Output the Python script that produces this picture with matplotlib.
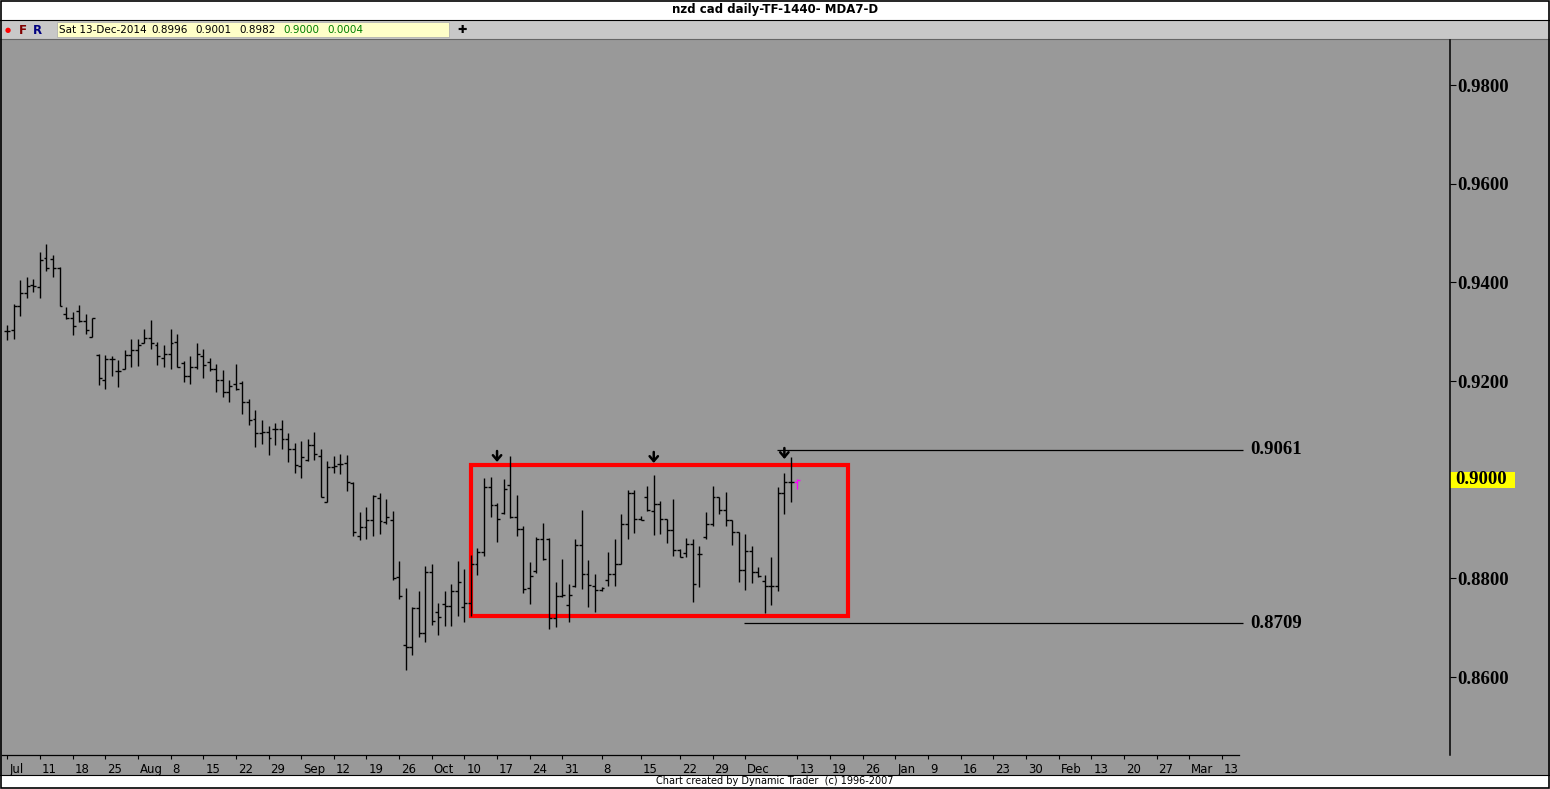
import matplotlib
matplotlib.use("Agg")
import matplotlib.pyplot as plt
from matplotlib.patches import Rectangle
from matplotlib.transforms import blended_transform_factory, ScaledTranslation

# ================= DATA =================
opens = [0.9301, 0.9303, 0.9352, 0.9379, 0.9394, 0.9390, 0.9450, 0.9447, 0.9430, 0.9335,
         0.9328, 0.9342, 0.9321, 0.9289, 0.9253, 0.9203, 0.9244, 0.9221, 0.9225, 0.9252,
         0.9262, 0.9278, 0.9287, 0.9272, 0.9246, 0.9255, 0.9280, 0.9236, 0.9211, 0.9228,
         0.9251, 0.9238, 0.9225, 0.9203, 0.9178, 0.9194, 0.9196, 0.9158, 0.9124, 0.9095,
         0.9097, 0.9102, 0.9103, 0.9083, 0.9063, 0.9027, 0.9040, 0.9070, 0.9049, 0.8954,
         0.9026, 0.9032, 0.9033, 0.8993, 0.8885, 0.8905, 0.8918, 0.8962, 0.8915, 0.8918,
         0.8802, 0.8665, 0.8661, 0.8739, 0.8690, 0.8812, 0.8732, 0.8749, 0.8744, 0.8775,
         0.8742, 0.8751, 0.8830, 0.8854, 0.8986, 0.8949, 0.8932, 0.8989, 0.8925, 0.8901,
         0.8780, 0.8815, 0.8879, 0.8879, 0.8719, 0.8764, 0.8745, 0.8785, 0.8867, 0.8808,
         0.8785, 0.8776, 0.8796, 0.8808, 0.8830, 0.8910, 0.8972, 0.8921, 0.8964, 0.8937,
         0.8950, 0.8921, 0.8897, 0.8857, 0.8852, 0.8869, 0.8850, 0.8884, 0.8911, 0.8964,
         0.8938, 0.8918, 0.8894, 0.8816, 0.8856, 0.8813, 0.8795, 0.8785, 0.8785, 0.8973,
         0.8996, 0.8996]
highs = [0.9313, 0.9357, 0.9404, 0.9411, 0.9406, 0.9462, 0.9477, 0.9455, 0.9432, 0.9351,
         0.9340, 0.9355, 0.9335, 0.9328, 0.9255, 0.9253, 0.9250, 0.9242, 0.9262, 0.9286,
         0.9286, 0.9306, 0.9323, 0.9280, 0.9274, 0.9306, 0.9296, 0.9240, 0.9250, 0.9278,
         0.9265, 0.9246, 0.9234, 0.9223, 0.9203, 0.9234, 0.9201, 0.9164, 0.9142, 0.9120,
         0.9108, 0.9114, 0.9120, 0.9094, 0.9075, 0.9078, 0.9083, 0.9097, 0.9063, 0.9038,
         0.9048, 0.9053, 0.9051, 0.8995, 0.8935, 0.8944, 0.8969, 0.8974, 0.8960, 0.8936,
         0.8836, 0.8780, 0.8742, 0.8775, 0.8825, 0.8829, 0.8751, 0.8775, 0.8788, 0.8836,
         0.8818, 0.8847, 0.8861, 0.9003, 0.9006, 0.8952, 0.9001, 0.9048, 0.8969, 0.8906,
         0.8834, 0.8883, 0.8913, 0.8881, 0.8792, 0.8840, 0.8788, 0.8879, 0.8939, 0.8838,
         0.8808, 0.8783, 0.8854, 0.8879, 0.8930, 0.8979, 0.8979, 0.8926, 0.8987, 0.9009,
         0.8957, 0.8921, 0.8960, 0.8860, 0.8881, 0.8879, 0.8865, 0.8935, 0.8987, 0.8964,
         0.8975, 0.8918, 0.8894, 0.8889, 0.8865, 0.8822, 0.8806, 0.8843, 0.8985, 0.9014,
         0.9046, 0.9001]
lows = [0.9284, 0.9286, 0.9332, 0.9369, 0.9381, 0.9369, 0.9422, 0.9411, 0.9352, 0.9325,
        0.9293, 0.9320, 0.9296, 0.9289, 0.9192, 0.9184, 0.9211, 0.9188, 0.9224, 0.9228,
        0.9230, 0.9278, 0.9264, 0.9233, 0.9228, 0.9225, 0.9228, 0.9198, 0.9194, 0.9225,
        0.9206, 0.9221, 0.9178, 0.9168, 0.9158, 0.9181, 0.9134, 0.9111, 0.9067, 0.9073,
        0.9051, 0.9071, 0.9063, 0.9036, 0.9014, 0.9004, 0.9038, 0.9040, 0.8964, 0.8954,
        0.9014, 0.9011, 0.8977, 0.8885, 0.8878, 0.8880, 0.8885, 0.8890, 0.8911, 0.8797,
        0.8759, 0.8614, 0.8644, 0.8682, 0.8670, 0.8705, 0.8686, 0.8704, 0.8703, 0.8724,
        0.8712, 0.8724, 0.8807, 0.8845, 0.8925, 0.8874, 0.8930, 0.8922, 0.8886, 0.8770,
        0.8749, 0.8811, 0.8838, 0.8697, 0.8701, 0.8762, 0.8712, 0.8783, 0.8779, 0.8742,
        0.8732, 0.8775, 0.8784, 0.8784, 0.8830, 0.8879, 0.8892, 0.8918, 0.8937, 0.8887,
        0.8889, 0.8872, 0.8845, 0.8843, 0.8843, 0.8752, 0.8783, 0.8879, 0.8906, 0.8930,
        0.8906, 0.8867, 0.8793, 0.8777, 0.8791, 0.8803, 0.8729, 0.8745, 0.8774, 0.8931,
        0.8955, 0.8982]
closes = [0.9301, 0.9353, 0.9379, 0.9393, 0.9393, 0.9445, 0.9430, 0.9430, 0.9352, 0.9328,
          0.9311, 0.9321, 0.9303, 0.9328, 0.9206, 0.9244, 0.9245, 0.9221, 0.9253, 0.9262,
          0.9272, 0.9287, 0.9278, 0.9250, 0.9255, 0.9278, 0.9228, 0.9211, 0.9228, 0.9255,
          0.9232, 0.9225, 0.9203, 0.9178, 0.9190, 0.9183, 0.9158, 0.9120, 0.9095, 0.9097,
          0.9085, 0.9103, 0.9083, 0.9063, 0.9029, 0.9046, 0.9070, 0.9052, 0.8965, 0.9026,
          0.9027, 0.9032, 0.8995, 0.8893, 0.8905, 0.8918, 0.8967, 0.8917, 0.8924, 0.8800,
          0.8764, 0.8660, 0.8739, 0.8690, 0.8812, 0.8714, 0.8722, 0.8744, 0.8775, 0.8793,
          0.8751, 0.8830, 0.8854, 0.8986, 0.8949, 0.8920, 0.8982, 0.8925, 0.8901, 0.8778,
          0.8805, 0.8879, 0.8840, 0.8720, 0.8764, 0.8766, 0.8766, 0.8867, 0.8808, 0.8787,
          0.8776, 0.8781, 0.8808, 0.8830, 0.8910, 0.8972, 0.8921, 0.8918, 0.8938, 0.8950,
          0.8921, 0.8897, 0.8857, 0.8843, 0.8869, 0.8789, 0.8850, 0.8911, 0.8964, 0.8938,
          0.8918, 0.8894, 0.8816, 0.8856, 0.8813, 0.8804, 0.8785, 0.8785, 0.8973, 0.8996,
          0.8996, 0.9000]

date_ticks = [0, 5, 10, 15, 20, 25, 30, 35, 40, 45, 50, 55, 60, 65, 70, 75, 80, 85,
              91, 97, 103, 108, 113, 121, 126, 131, 136, 141, 146, 151, 156, 161, 166,
              171, 176, 181, 186]
date_labels = ["Jul", "11", "18", "25", "Aug", "8", "15", "22", "29", "Sep", "12", "19",
               "26", "Oct", "10", "17", "24", "31", "8", "15", "22", "29", "Dec", "13",
               "19", "26", "Jan", "9", "16", "23", "30", "Feb", "13", "20", "27", "Mar", "13"]

price_ticks = [0.86, 0.88, 0.92, 0.94, 0.96, 0.98]
last_price = 0.9000

box_x = (71, 128.7)
box_y = (0.8724, 0.9030)
level_vals = [0.9061, 0.8709]
level_start = [117.8, 112.8]
level_end = 189.3
arrow_idx = [75, 99, 119]
arrow_price = [0.9046, 0.9044, 0.9052]

header_vals = ["Sat 13-Dec-2014", "0.8996", "0.9001", "0.8982", "0.9000", "0.0004"]

# ================= FIGURE =================
W, H = 1550, 789
fig = plt.figure(figsize=(W / 100, H / 100), dpi=100)
fig.patch.set_facecolor("white")


def fx(x):
    return x / W


def fy(y):
    return 1 - y / H


def frect(x0, y0, x1, y1, z=-10, **kw):
    fig.add_artist(Rectangle((fx(x0), fy(y1)), fx(x1) - fx(x0), fy(y0) - fy(y1),
                             transform=fig.transFigure, zorder=z, **kw))


def fline(x0, y0, x1, y1, **kw):
    fig.add_artist(plt.Line2D([fx(x0), fx(x1)], [fy(y0), fy(y1)],
                              transform=fig.transFigure, zorder=-5, **kw))


GRAY = "#999999"
frect(0, 20, W, 39, facecolor="#c8c8c8", edgecolor="none")
frect(0, 39, W, 775, facecolor=GRAY, edgecolor="none")
frect(0.5, 0.5, W - 1, H - 1, z=5, facecolor="none", edgecolor="black", lw=1.2)
fline(0, 20, W, 20, color="black", lw=0.8)
fline(0, 39, W, 39, color="#666666", lw=0.8)
fline(0, 775, W, 775, color="black", lw=0.8)

# title + toolbar
fig.text(0.5, fy(10), "nzd cad daily-TF-1440- MDA7-D", ha="center", va="center",
         fontsize=8.5, fontweight="bold", family="DejaVu Sans")
fig.text(fx(8), fy(30), "\u25CF", color="red", fontsize=5, ha="center", va="center")
fig.text(fx(23), fy(30), "F", color="#800000", fontsize=8.5, fontweight="bold",
         ha="center", va="center")
fig.text(fx(37), fy(30), "R", color="#000080", fontsize=8.5, fontweight="bold",
         ha="center", va="center")
frect(57, 22, 449, 37, z=-4, facecolor="#ffffc8", edgecolor="#b0b0b0", lw=0.6)
hx = [59, 151, 195, 239, 283, 327]
hcol = ["black", "black", "black", "black", "#008000", "#008000"]
for x, t, c in zip(hx, header_vals, hcol):
    fig.text(fx(x), fy(30), t, color=c, fontsize=7.5, ha="left", va="center")
fig.text(fx(462), fy(30), "\u271A", fontsize=8, ha="center", va="center")
fig.text(fx(775), fy(781.5), "Chart created by Dynamic Trader  (c) 1996-2007",
         ha="center", va="center", fontsize=7)

# ================= MAIN AXES =================
x_per_bar = 6.53
x0_bar = 7.3
xl = (2 - x0_bar) / x_per_bar
xr = (1450 - x0_bar) / x_per_bar
p_per_px = 0.02 / 98.67
ytop = 0.98 + (85 - 40) * p_per_px
ybot = 0.98 - (755 - 85) * p_per_px

ax = fig.add_axes([fx(2), fy(755), fx(1450) - fx(2), fy(40) - fy(755)])
ax.set_facecolor("none")
ax.set_xlim(xl, xr)
ax.set_ylim(ybot, ytop)

# bars
n = len(highs)
idx = list(range(n))
cols = ["black"] * (n - 1) + ["#ff00ff"]
ax.vlines(idx, lows, highs, colors=cols, lw=1.0)
ax.hlines(opens, [i - 0.45 for i in idx], idx, colors=cols, lw=1.0)
ax.hlines(closes, idx, [i + 0.45 for i in idx], colors=cols, lw=1.0)

# red box
ax.add_patch(Rectangle((box_x[0], box_y[0]), box_x[1] - box_x[0], box_y[1] - box_y[0],
                       facecolor="none", edgecolor="#ff0000", lw=3))

# levels
for v, s in zip(level_vals, level_start):
    ax.hlines(v, s, level_end, color="black", lw=0.9)
    ax.text(level_end + 1.0, v, f"{v:.4f}", va="center", ha="left", fontsize=13.5,
            fontweight="bold", family="Liberation Serif")

# arrows
for i, p in zip(arrow_idx, arrow_price):
    ax.annotate("", xy=(i, p - 5 * p_per_px), xytext=(i, p + 6 * p_per_px),
                arrowprops=dict(arrowstyle="->,head_length=0.35,head_width=0.3",
                                lw=1.8, color="black", shrinkA=0, shrinkB=0))

# axes styling
for s in ["left", "top"]:
    ax.spines[s].set_visible(False)
ax.spines["right"].set_linewidth(1.1)
ax.spines["bottom"].set_bounds(xl, (1239 - x0_bar) / x_per_bar)
ax.spines["bottom"].set_linewidth(0.9)

ax.set_xticks(date_ticks)
ax.set_xticklabels(date_labels, ha="left")
ax.tick_params(axis="x", direction="out", length=3, width=0.8, pad=3, labelsize=8.5)
for lab in ax.get_xticklabels():
    lab.set_transform(lab.get_transform() + ScaledTranslation(2 / 100, 0, fig.dpi_scale_trans))

ax.yaxis.tick_right()
ax.set_yticks(price_ticks)
ax.set_yticklabels([f"{t:.4f}" for t in price_ticks])
ax.tick_params(axis="y", direction="out", length=4, width=0.8, pad=1, labelsize=13.5)
for lab in ax.get_yticklabels():
    lab.set_fontweight("bold")
    lab.set_family("Liberation Serif")

# current price tag
tr = blended_transform_factory(ax.transAxes, ax.transData)
ax.add_patch(Rectangle((1.0, last_price - 8 * p_per_px), 65 / 1448, 16 * p_per_px,
                       transform=tr, facecolor="#ffff00", edgecolor="none", clip_on=False))
ax.text(1.0 + 5 / 1448, last_price, f"{last_price:.4f}", transform=tr, va="center",
        ha="left", fontsize=13.5, fontweight="bold", family="Liberation Serif")

fig.savefig("out.png", dpi=100)
